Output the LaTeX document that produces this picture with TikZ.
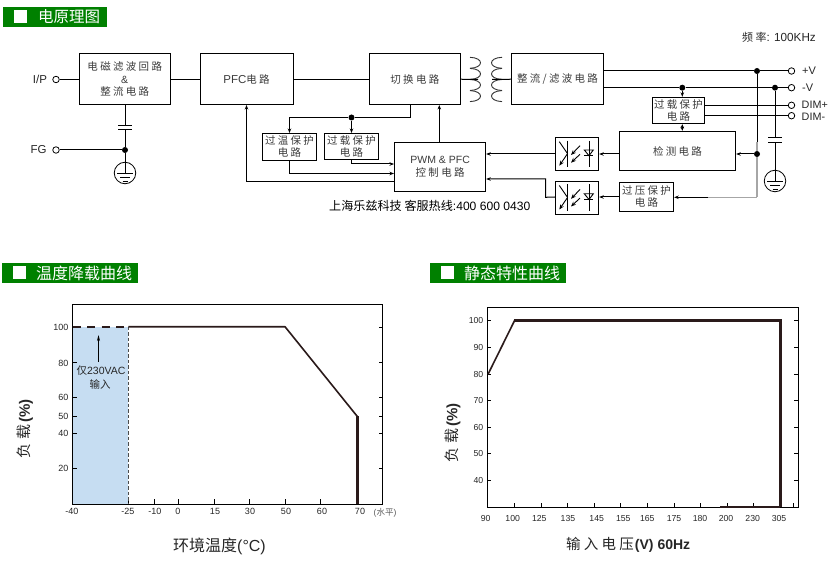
\documentclass[tikz,border=0pt]{standalone}
\usepackage{fontspec}
\usetikzlibrary{arrows.meta}
\setmainfont{Liberation Sans}
\newfontfamily\cjksp[LetterSpace=22]{Noto Sans CJK SC}
\newfontfamily\cjkno{Noto Sans CJK SC}
\newcommand\cn[1]{{\cjksp #1}}
\newcommand\zh[1]{{\cjkno #1}}
\newcommand\fs[1]{\fontsize{#1}{#1}\selectfont}
\definecolor{hdrgreen}{HTML}{008000}
\definecolor{lbl}{HTML}{3C3C3C}
\definecolor{chartblue}{HTML}{C6DDF2}
\definecolor{curve}{HTML}{2A1A1A}
\tikzset{
  x=1pt,y=-1pt,
  wire/.style={draw=black,line width=1pt},
  arr/.style={wire,-{Stealth[length=4.5pt,width=3.5pt]}},
  box/.style={draw=black,line width=1pt,fill=white,inner sep=0pt,align=center,text=lbl,font=\fs{10.5}},
  term/.style={circle,draw=black,line width=0.8pt,fill=white,inner sep=0pt,minimum size=6.5pt},
  jun/.style={circle,fill=black,inner sep=0pt,minimum size=6pt},
  gndc/.style={circle,draw=black,line width=0.8pt,inner sep=0pt,minimum size=21.5pt},
  lab/.style={inner sep=0pt,text=black!85},
  hdr/.style={fill=hdrgreen,inner sep=0pt,anchor=north west},
  hsq/.style={fill=white,inner sep=0pt,minimum size=13pt},
  htxt/.style={text=white,inner sep=0pt,anchor=west},
  tick/.style={line width=0.9pt,draw=black},
  tl/.style={inner sep=0pt,text=black!85,font=\fs{9}},
  opt/.style={line width=0.9pt,draw=black},
  opta/.style={line width=0.9pt,draw=black,-{Stealth[length=5pt,width=4pt]}},
}
\begin{document}
\begin{tikzpicture}
\useasboundingbox (0,0) rectangle (835,561);
% headers
\node[hdr,minimum width=104pt,minimum height=20pt] (h1) at (3,7) {};
\node[hsq] (h1s) at (20.5,16.5) {};
\node[htxt,font=\fs{15.5}] (h1t) at (38,17) {\zh{电原理图}};
\node[hdr,minimum width=136pt,minimum height=20pt] (h2) at (2,263) {};
\node[hsq] (h2s) at (19.5,272.5) {};
\node[htxt,font=\fs{16}] (h2t) at (36,273) {\zh{温度降载曲线}};
\node[hdr,minimum width=136pt,minimum height=20pt] (h3) at (430,263) {};
\node[hsq] (h3s) at (447.5,272.5) {};
\node[htxt,font=\fs{16}] (h3t) at (464,273) {\zh{静态特性曲线}};

% blocks
\node[box,minimum width=91.5pt,minimum height=50.5pt] (emi) at (124.75,79.25) {\cn{电磁滤波回路}\\[2pt]\&\\[2pt]\cn{整流电路}};
\node[box,minimum width=93pt,minimum height=50.5pt] (pfc) at (246.5,79.25) {{\fs{11.5}PFC}\cn{电路}};
\node[box,minimum width=91.7pt,minimum height=50.5pt] (sw) at (414.85,79.25) {\cn{切换电路}};
\node[box,minimum width=92.4pt,minimum height=50.5pt] (rect) at (557.5,79.25) {\cn{整流/滤波电路}};
\node[box,minimum width=54pt,minimum height=27pt] (otp) at (289.5,147) {\cn{过温保护}\\[1.5pt]\cn{电路}};
\node[box,minimum width=54pt,minimum height=26pt] (olp) at (351.5,146.5) {\cn{过载保护}\\[1.5pt]\cn{电路}};
\node[box,minimum width=91.2pt,minimum height=49.4pt] (pwm) at (440.1,167) {PWM \& PFC\\[2.5pt]\cn{控制电路}};
\node[box,minimum width=43.4pt,minimum height=33.4pt] (op1) at (577,154) {};
\node[box,minimum width=43.4pt,minimum height=33pt] (op2) at (577,197.8) {};
\node[box,minimum width=116.4pt,minimum height=39.4pt] (det) at (677.5,151) {\cn{检测电路}};
\node[box,minimum width=54.4pt,minimum height=29.4pt] (ovp) at (646.5,197) {\cn{过压保护}\\[1.5pt]\cn{电路}};
\node[box,minimum width=52.4pt,minimum height=26.4pt] (olb) at (678.5,110.5) {\cn{过载保护}\\[1.5pt]\cn{电路}};

% terminals
\node[term] (tip) at (56,79.5) {};
\node[term] (tfg) at (56,150) {};
\node[term] (tpv) at (791.5,71) {};
\node[term] (tmv) at (791.5,87.7) {};
\node[term] (tdp) at (791.5,105.3) {};
\node[term] (tdm) at (791.5,115.7) {};
\node[lab,font=\fs{11.5}] (lip) at (40,79) {I/P};
\node[lab,font=\fs{11.5}] (lfg) at (38.5,150) {FG};
\node[lab,font=\fs{11},anchor=west] (lpv) at (802,71) {+V};
\node[lab,font=\fs{11},anchor=west] (lmv) at (802,87.7) {-V};
\node[lab,font=\fs{10.8},anchor=west] (ldp) at (801.5,105) {DIM+};
\node[lab,font=\fs{10.8},anchor=west] (ldm) at (801.5,116.5) {DIM-};

% junctions
\node[jun] (j1) at (125,150) {};
\node[jun] (j2) at (351.5,117.5) {};
\node[jun] (j3) at (757,71) {};
\node[jun] (j4) at (682.3,87.7) {};
\node[jun] (j5) at (775,87.7) {};
\node[jun] (j6) at (757,154) {};
\coordinate (swd) at (410.7,104.5);
\coordinate (corn) at (289.5,117.5);
\coordinate (ovc) at (757,197.3);
\coordinate (ovg) at (708,197.3);

% grounds
\node[gndc] (g1) at (125,173) {};
\node[gndc] (g2) at (775,181) {};
\foreach \g in {g1,g2}{
  \draw[line width=0.9pt] ([xshift=-8pt]\g.center) -- ([xshift=8pt]\g.center);
  \draw[line width=0.9pt] ([xshift=-5pt,yshift=-4.5pt]\g.center) -- ([xshift=5pt,yshift=-4.5pt]\g.center);
  \draw[line width=0.9pt] ([xshift=-2.5pt,yshift=-8.5pt]\g.center) -- ([xshift=2.5pt,yshift=-8.5pt]\g.center);
}
% capacitors
\coordinate (c1a) at (125,125.5);
\coordinate (c1b) at (125,130);
\coordinate (c2a) at (775,138);
\coordinate (c2b) at (775,142.7);
\draw[wire] ([xshift=-7pt]c1a) -- ([xshift=7pt]c1a);
\draw[wire] ([xshift=-7pt]c1b) -- ([xshift=7pt]c1b);
\draw[wire] ([xshift=-7pt]c2a) -- ([xshift=7pt]c2a);
\draw[wire] ([xshift=-7pt]c2b) -- ([xshift=7pt]c2b);

% transformer
\coordinate (tla) at (478,79.3);
\coordinate (tlb) at (492,79.3);
\foreach \y in {57.3,68.4,79.5,90.6}{
  \draw[line width=0.9pt,black!80] (470,\y) .. controls (484,\y+0.5) and (484,\y+10.5) .. (470,\y+11);
  \draw[line width=0.9pt,black!80] (502,\y) .. controls (488,\y+0.5) and (488,\y+10.5) .. (502,\y+11);
}

% connectors
\draw[wire] (tip) -- (emi.west |- tip);
\draw[wire] (tfg) -- (j1);
\draw[wire] (emi.south -| c1a) -- (c1a);
\draw[wire] (c1b) -- (j1);
\draw[wire] (j1) -- (g1.center);
\draw[wire] (emi.east) -- (pfc.west);
\draw[wire] (pfc.east) -- (sw.west);
\draw[wire] (sw.east) -- (tla);
\draw[wire] (tlb) -- (rect.west);
\draw[wire] (swd) |- (j2);
\draw[arr] (j2) -- (corn) -- (otp.north -| corn);
\draw[arr] (j2) -- (olp.north -| j2);
\draw[arr] (olp.south -| j2) |- (pwm.west |- 0,164);
\draw[arr] (otp.south -| corn) |- (pwm.west |- 0,173.5);
\draw[arr] (pwm.west |- 0,181.5) -| (pfc.south);
\draw[arr] (pwm.north -| 439.3,0) -- (sw.south -| 439.3,0);
\draw[wire] (rect.east |- j3) -- (j3);
\draw[wire] (j3) -- (tpv);
\draw[wire] (rect.east |- j4) -- (j4);
\draw[wire] (j4) -- (j5);
\draw[wire] (j5) -- (tmv);
\draw[wire] (olb.east |- tdp) -- (tdp);
\draw[wire] (olb.east |- tdm) -- (tdm);
\draw[arr] (j4) -- (olb.north -| j4);
\draw[wire,{Stealth[length=4pt,width=3.5pt]}-{Stealth[length=4pt,width=3.5pt]}] (olb.south -| j4) -- (det.north -| j4);
\draw[wire] (j5) -- (c2a);
\draw[wire] (c2b) -- (g2.center);
\draw[wire] (j3) -- (757,142);
\draw[line width=1.2pt,draw=black!35] (757,142) -- (j6);
\draw[line width=1.2pt,draw=black!35] (j6) -- (ovc);
\draw[wire,draw=black!35] (ovc) -- (ovg);
\draw[arr] (ovg) -- (ovp.east |- ovg);
\draw[arr] (j6) -- (det.east |- j6);
\draw[arr] (det.west |- op1) -- (op1.east);
\draw[arr] (op1.west) -- (pwm.east |- op1);
\draw[arr] (ovp.west) -- (op2.east |- ovp);
\draw[arr] (op2.west |- ovp) -- (545.7,197.3) -- (545.7,179) -- (pwm.east |- 0,179);

% optocouplers
\foreach \n in {op1,op2}{
\begin{scope}[shift={(\n.center)}]
  \draw[opt] (-9.7,-13.3) -- (-9.7,13);
  \draw[opt] (-17.7,-12.3) -- (-9.7,-0.7);
  \draw[opta] (-9.7,0) -- (-17.7,11.7);
  \draw[opta] (3,-8.3) -- (-6,1);
  \draw[opta] (3,0.3) -- (-6,8.7);
  \draw[opt] (12,-13.3) -- (12,13);
  \draw[opt] (7.3,-4) -- (16.3,-4) -- (12,1.7) -- cycle;
  \draw[opt] (7.3,1.7) -- (16.3,1.7);
\end{scope}}

% free texts
\node[lab,text=black,font=\fs{12.1},anchor=west] (hot) at (329,206) {\zh{上海乐兹科技 客服热线}:400 600 0430};
\node[lab,font=\fs{11.7},anchor=east] (freq) at (816,37) {{\fs{11}\cn{频率}}: 100KHz};

% ===== chart 1
\fill[chartblue] (72.5,326.7) rectangle (128.3,504.3);
\node[inner sep=0pt,minimum width=310pt,minimum height=200pt,draw=black,line width=1pt] (c1) at (227.5,404.3) {};
\foreach \y/\t in {327/100,362.5/80,397.3/60,416.3/50,433.3/40,468.3/20}{
  \draw[tick] (72.5,\y) -- ++(4,0);
  \draw[tick] (382.5,\y) -- ++(-4,0);
  \node[tl,anchor=east] (ya\t) at (68.5,\y+0.5) {\t};
}
\foreach \x/\l/\t in {128.3/128/-25,154.3/155/-10,178.3/178/0,214.3/215/15,249.3/250/30,285/286/50,320.7/322/60,357.3/360/70}{
  \draw[tick] (\x,504.3) -- ++(0,-5);
  \node[tl] (xa\t) at (\l,511.7) {\t};
}
\node[tl] (xa40) at (72,511.7) {-40};
\node[lab,text=black!65,font=\fs{8.5},anchor=west] (unit) at (373.5,513) {(\zh{水平})};
\draw[line width=0.8pt,draw=black!70,dash pattern=on 3.5pt off 2pt] (128.3,326.7) -- (128.3,504.3);
\draw[line width=2.2pt,draw=curve,dash pattern=on 8pt off 6.5pt] (72.5,326.7) -- (128.3,326.7);
\draw[line width=1.6pt,draw=curve,line join=round] (128.3,326.7) -- (285,326.7) -- (357.5,416.7);
\draw[line width=2.6pt,draw=curve] (357.5,416) -- (357.5,504.3);
\draw[line width=0.9pt,-{Stealth[length=6pt,width=3pt]}] (98.5,361.7) -- (98.5,335);
\node[lab,font=\fs{10.5}] (only) at (101,370.7) {\zh{仅}230VAC};
\node[lab,font=\fs{10.5}] (inp) at (100,384) {\zh{输入}};
\node[lab,font=\fs{16}] (xt1) at (219.5,546.5) {\zh{环境温度}(°C)};
\node[lab,font=\fs{15},rotate=90] (yt1) at (25,429) {\cn{负}\hspace{4pt}\cn{载}\hspace{2pt}{\bfseries (\%)}};

% ===== chart 2
\node[inner sep=0pt,minimum width=311pt,minimum height=200pt,draw=black,line width=1pt] (c2) at (642.8,407.3) {};
\foreach \y/\t in {320.3/100,347.3/90,374.3/80,400.7/70,427.3/60,453.3/50,480.3/40}{
  \draw[tick] (487.3,\y) -- ++(4,0);
  \draw[tick] (798.3,\y) -- ++(-4,0);
  \node[tl,anchor=east,font=\fs{8.7}] (yb\t) at (483.5,\y) {\t};
}
\foreach \x/\l/\t in {514.7/512.7/100,541.3/539.3/125,567.7/568/135,594.3/596.7/145,620.3/623.3/155,647.3/647.3/165,674.3/674/175,700.3/700/180,727/726/200,753.7/752.7/230,780.3/779/305}{
  \draw[tick] (\x,507.3) -- ++(0,-4);
  \node[tl,font=\fs{8.7}] (xb\t) at (\l,518.3) {\t};
}
\draw[tick] (793,507.3) -- ++(0,-4);
\node[tl,font=\fs{8.7}] (xb90) at (485.7,518.3) {90};
\draw[line width=1.4pt,draw=curve] (720,506.8) -- (780,506.8);
\draw[line width=1.6pt,draw=curve] (488,374.3) -- (514.7,320.3);
\draw[line width=2.8pt,draw=curve] (514,320.3) -- (780.3,320.3);
\draw[line width=2.8pt,draw=curve] (780.3,319) -- (780.3,507.3);
\node[lab,font=\fs{14},anchor=west] (xt2) at (566,545) {{\fs{14.5}\cn{输入电压}}\hspace{-2pt}\textbf{(V) 60Hz}};
\node[lab,font=\fs{15},rotate=90] (yt2) at (452.7,433) {\cn{负}\hspace{4pt}\cn{载}\hspace{2pt}{\bfseries (\%)}};
\end{tikzpicture}
\end{document}
